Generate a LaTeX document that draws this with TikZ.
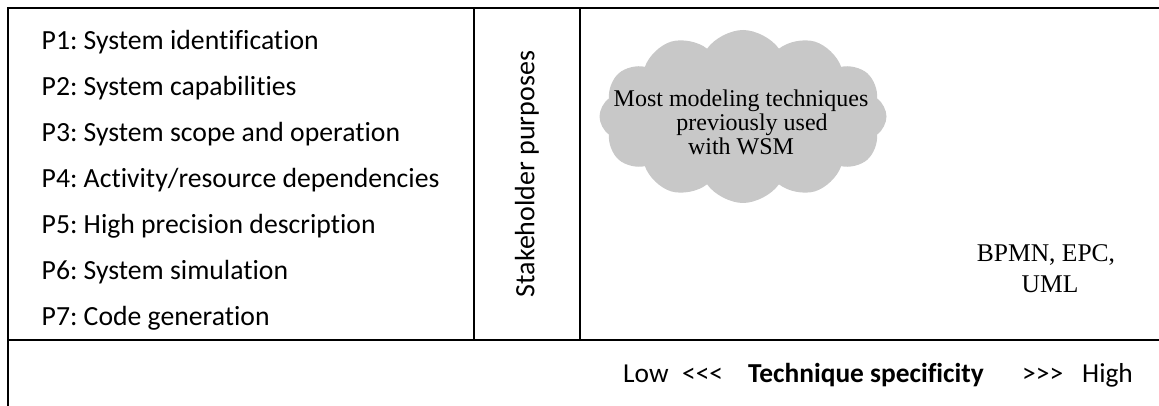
\documentclass[tikz,border=0pt]{standalone}
\usepackage{fontspec}
\setmainfont{Carlito}[Ligatures={TeX,NoCommon}]
\newfontfamily\tnr{Liberation Serif}
\usetikzlibrary{shapes.symbols}
\definecolor{cloudgray}{RGB}{200,200,200}
\frenchspacing
\tikzset{
  frame/.style={line width=2pt, black},
  purpose/.style={anchor=base west, inner sep=0pt, font=\fontsize{27.7}{30}\selectfont},
  axislabel/.style={anchor=base west, inner sep=0pt, font=\fontsize{27.4}{30}\selectfont},
  serifline/.style={anchor=base, inner sep=0pt, font=\tnr\fontsize{24}{24}\selectfont},
  techline/.style={anchor=base, inner sep=0pt, font=\tnr\fontsize{25.5}{28}\selectfont},
}
\begin{document}
\begin{tikzpicture}[x=1pt, y=-1pt]
\useasboundingbox (0,0) rectangle (1159,406);
% frame coordinates
\coordinate (tl) at (7.5,8);
\coordinate (tr) at (1159,8);
\coordinate (bl) at (7.5,406);
\coordinate (ml) at (7.5,340);
\coordinate (mr) at (1159,340);
\coordinate (v1t) at (474,8);
\coordinate (v1b) at (474,340);
\coordinate (v2t) at (580,8);
\coordinate (v2b) at (580,340);
\draw[frame] (tr) -- (tl) -- (bl);
\draw[frame] (ml) -- (mr);
\draw[frame] (v1t) -- (v1b);
\draw[frame] (v2t) -- (v2b);
% purposes
\node[purpose] (p1) at (41.5,49.3) {P1: System identification};
\node[purpose] (p2) at (41.5,95.3) {P2: System capabilities};
\node[purpose] (p3) at (41.5,141.3) {P3: System scope and operation};
\node[purpose] (p4) at (41.5,187.3) {P4: Activity/resource dependencies};
\node[purpose] (p5) at (41.5,233.3) {P5: High precision description};
\node[purpose] (p6) at (41.5,279.3) {P6: System simulation};
\node[purpose] (p7) at (41.5,325.8) {P7: Code generation};
% stakeholder
\node[rotate=90, inner sep=0pt, font=\fontsize{28}{30}\selectfont] (sp) at (527,174) {Stakeholder purposes};
% cloud
\node[cloud, cloud puffs=12, cloud puff arc=110, aspect=1.66, fill=cloudgray, draw=none,
      minimum width=287pt, minimum height=173pt, inner sep=0pt] (cloud) at (743,116.5) {};
\node[serifline] (c1) at (741,106.7) {Most modeling techniques};
\node[serifline] (c2) at (752,130.7) {previously used};
\node[serifline] (c3) at (741,155) {with WSM};
% techniques
\node[techline] (t1) at (1046,261) {BPMN, EPC,};
\node[techline] (t2) at (1050,292) {UML};
% axis
\node[axislabel] (low) at (623,382) {Low};
\node[axislabel] (lt) at (682,382) {<\kern0pt<\kern0pt<};
\node[axislabel, font=\fontsize{27.4}{30}\selectfont\bfseries] (ts) at (748,382) {Technique specificity};
\node[axislabel] (gt) at (1022,382) {>\kern0pt>\kern0pt>};
\node[axislabel] (high) at (1082,382) {High};
\end{tikzpicture}
\end{document}
